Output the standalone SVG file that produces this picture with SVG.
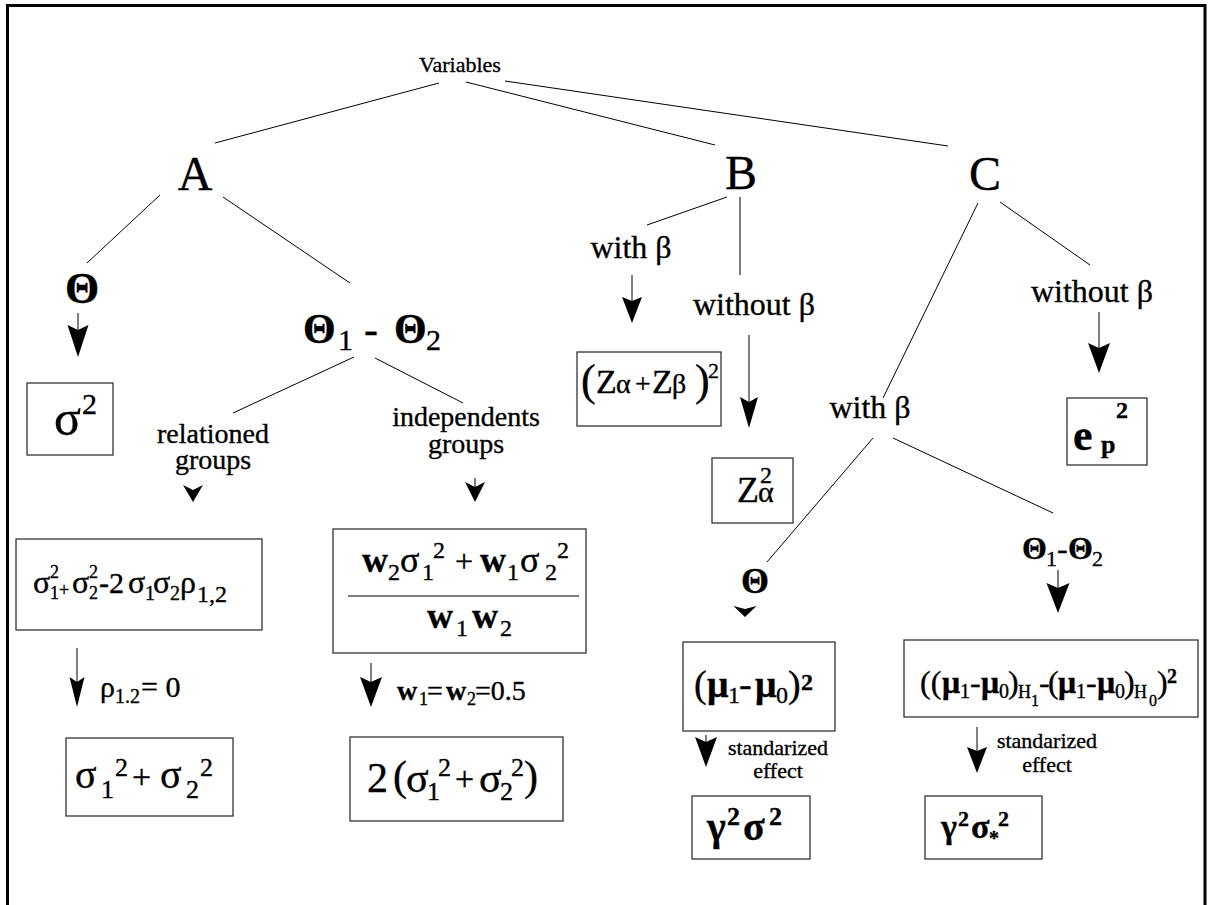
<svg xmlns="http://www.w3.org/2000/svg" width="1209" height="905" viewBox="0 0 1209 905">
<style>
.c{stroke:#000;stroke-width:1;fill:none}
.box{fill:#fff;stroke:#333;stroke-width:1.3}
.ah{fill:#000;stroke:none}
.txt{font-family:'Liberation Serif','Times New Roman',serif;fill:#000;stroke:#000;stroke-width:0.35}
</style>
<rect x="0" y="0" width="1209" height="905" fill="#fff"/>
<rect x="7.5" y="5.5" width="1197.5" height="920" fill="none" stroke="#000" stroke-width="3"/>

<g id="connectors">
  <line class="c" x1="439" y1="83" x2="215" y2="143"/>
  <line class="c" x1="466" y1="82" x2="715" y2="145"/>
  <line class="c" x1="505" y1="81" x2="948" y2="146"/>
  <line class="c" x1="160" y1="195" x2="87" y2="263"/>
  <line class="c" x1="223" y1="197" x2="350" y2="283"/>
  <line class="c" x1="354" y1="357" x2="233" y2="413"/>
  <line class="c" x1="375" y1="358" x2="463" y2="403"/>
  <line class="c" x1="727" y1="197" x2="647" y2="225"/>
  <line class="c" x1="740" y1="197" x2="740" y2="275"/>
  <line class="c" x1="978" y1="203" x2="883" y2="398"/>
  <line class="c" x1="1000" y1="202" x2="1090" y2="265"/>
  <line class="c" x1="873" y1="438" x2="767" y2="562"/>
  <line class="c" x1="893" y1="438" x2="1053" y2="513"/>
  <line class="c" x1="78" y1="313" x2="78" y2="330"/>
  <path class="ah" d="M78,357 L67.5,325 L78,330 L88.5,325 Z"/>
  <path class="ah" d="M193,502 L183,485 L193,490 L203,485 Z"/>
  <line class="c" x1="475" y1="478" x2="475" y2="487"/>
  <path class="ah" d="M475,502 L465,482 L475,487 L485,482 Z"/>
  <line class="c" x1="77" y1="648" x2="77" y2="682"/>
  <path class="ah" d="M77,707 L69.5,677 L77,682 L84.5,677 Z"/>
  <line class="c" x1="371" y1="663" x2="371" y2="682"/>
  <path class="ah" d="M371,707 L360,677 L371,682 L382,677 Z"/>
  <line class="c" x1="632" y1="275" x2="632" y2="301"/>
  <path class="ah" d="M632,323 L622,297 L632,301 L642,297 Z"/>
  <line class="c" x1="749" y1="335" x2="749" y2="402"/>
  <path class="ah" d="M749,428 L740,397 L749,402 L758,397 Z"/>
  <line class="c" x1="1099" y1="312" x2="1099" y2="348"/>
  <path class="ah" d="M1099,373 L1088,343 L1099,348 L1110,343 Z"/>
  <path class="ah" d="M745,617 L733.5,606 L745,609 L756.5,606 Z"/>
  <line class="c" x1="706" y1="735" x2="706" y2="742"/>
  <path class="ah" d="M706,767 L695,737 L706,742 L717,737 Z"/>
  <line class="c" x1="1058" y1="570" x2="1058" y2="588"/>
  <path class="ah" d="M1058,613 L1046.5,583 L1058,588 L1069.5,583 Z"/>
  <line class="c" x1="977" y1="727" x2="977" y2="751"/>
  <path class="ah" d="M977,773 L967,747 L977,751 L987,747 Z"/>
</g>

<g id="variables"><text class="txt" x="460" y="72" font-size="22" text-anchor="middle" stroke-width="0.2">Variables</text></g>
<g id="nodeA"><text class="txt" x="195" y="190" font-size="48" text-anchor="middle" stroke-width="0.6">A</text></g>
<g id="nodeB"><text class="txt" x="741" y="189" font-size="48" text-anchor="middle" stroke-width="0.6">B</text></g>
<g id="nodeC"><text class="txt" x="985" y="190" font-size="48" text-anchor="middle" stroke-width="0.6">C</text></g>

<g id="theta-A"><text class="txt" x="82" y="303" font-size="44" font-weight="bold" text-anchor="middle">Θ</text></g>
<g id="sigma2">
  <rect class="box" x="27" y="383" width="86" height="72"/>
  <text class="txt" font-size="50"><tspan x="54" y="435">σ</tspan><tspan x="82" y="414" font-size="30">2</tspan></text>
</g>

<g id="theta12-A">
  <text class="txt" font-size="42"><tspan font-weight="bold" x="303" y="343">Θ</tspan><tspan x="338" y="350" font-size="30">1</tspan><tspan x="364" y="343">-</tspan><tspan font-weight="bold" x="394" y="343">Θ</tspan><tspan x="426" y="350" font-size="30">2</tspan></text>
</g>

<g id="relationed"><text class="txt" font-size="28" text-anchor="middle"><tspan x="213" y="443">relationed</tspan><tspan x="213" y="469">groups</tspan></text></g>
<g id="independents"><text class="txt" font-size="28" text-anchor="middle"><tspan x="466" y="426">independents</tspan><tspan x="466" y="453">groups</tspan></text></g>

<g id="box-related">
  <rect class="box" x="16" y="539" width="246" height="91"/>
  <text class="txt" font-size="32">
    <tspan x="33" y="593">σ</tspan><tspan x="50" y="578" font-size="18">2</tspan><tspan x="50" y="599" font-size="18">1</tspan><tspan x="59" y="596" font-size="18">+</tspan>
    <tspan x="72" y="593">σ</tspan><tspan x="89" y="578" font-size="18">2</tspan><tspan x="89" y="599" font-size="18">2</tspan>
    <tspan x="99" y="593" font-size="30">-2</tspan>
    <tspan x="128" y="593">σ</tspan><tspan x="145" y="600" font-size="20">1</tspan><tspan x="153" y="593">σ</tspan><tspan x="170" y="600" font-size="20">2</tspan><tspan x="180" y="593">ρ</tspan><tspan x="197" y="602" font-size="24">1,2</tspan>
  </text>
</g>
<g id="rho-label"><text class="txt" font-size="30"><tspan x="100" y="697">ρ</tspan><tspan x="115" y="703" font-size="20">1.2</tspan><tspan x="141" y="697">= 0</tspan></text></g>
<g id="box-sum">
  <rect class="box" x="66" y="738" width="167" height="78"/>
  <text class="txt" font-size="40"><tspan x="75" y="788">σ</tspan><tspan x="101" y="798" font-size="26">1</tspan><tspan x="115" y="776" font-size="26">2</tspan><tspan x="132" y="788" font-size="34">+</tspan><tspan x="160" y="788">σ</tspan><tspan x="186" y="798" font-size="26">2</tspan><tspan x="200" y="776" font-size="26">2</tspan></text>
</g>

<g id="box-indep">
  <rect class="box" x="333" y="529" width="253" height="124"/>
  <text class="txt" font-size="36"><tspan x="362" y="572" font-weight="bold">w</tspan><tspan x="388" y="580" font-size="24">2</tspan><tspan x="400" y="572">σ</tspan><tspan x="422" y="580" font-size="24">1</tspan><tspan x="433" y="558" font-size="24">2</tspan><tspan x="455" y="572" font-size="32">+</tspan><tspan x="480" y="572" font-weight="bold">w</tspan><tspan x="507" y="580" font-size="24">1</tspan><tspan x="520" y="572">σ</tspan><tspan x="545" y="580" font-size="24">2</tspan><tspan x="557" y="558" font-size="24">2</tspan></text>
  <line class="c" x1="348" y1="596" x2="579" y2="596"/>
  <text class="txt" font-size="36"><tspan x="427" y="628" font-weight="bold">w</tspan><tspan x="456" y="636" font-size="24">1</tspan><tspan x="472" y="628" font-weight="bold">w</tspan><tspan x="500" y="636" font-size="24">2</tspan></text>
</g>
<g id="w-label"><text class="txt" font-size="28"><tspan x="397" y="700" font-weight="bold">w</tspan><tspan x="419" y="705" font-size="18">1</tspan><tspan x="427" y="700">=</tspan><tspan x="446" y="700" font-weight="bold">w</tspan><tspan x="467" y="705" font-size="18">2</tspan><tspan x="475" y="700">=0.5</tspan></text></g>
<g id="box-2sum">
  <rect class="box" x="350" y="737" width="213" height="84"/>
  <text class="txt" font-size="42"><tspan x="367" y="792">2</tspan><tspan x="393" y="790">(</tspan><tspan x="406" y="792">σ</tspan><tspan x="427" y="800" font-size="26">1</tspan><tspan x="438" y="776" font-size="26">2</tspan><tspan x="455" y="790" font-size="34">+</tspan><tspan x="479" y="792">σ</tspan><tspan x="500" y="800" font-size="26">2</tspan><tspan x="511" y="776" font-size="26">2</tspan><tspan x="524" y="790">)</tspan></text>
</g>

<g id="withbeta-B"><text class="txt" x="631" y="258" font-size="32" text-anchor="middle">with β</text></g>
<g id="withoutbeta-B"><text class="txt" x="754" y="315" font-size="32" text-anchor="middle">without β</text></g>
<g id="box-zab">
  <rect class="box" x="577" y="352" width="144" height="74"/>
  <text class="txt" font-size="34"><tspan x="581" y="395" font-size="44">(</tspan><tspan x="596" y="393">Z</tspan><tspan x="616" y="393" font-size="28">α</tspan><tspan x="635" y="393" font-size="28">+</tspan><tspan x="652" y="393">Z</tspan><tspan x="672" y="393" font-size="28">β</tspan><tspan x="695" y="395" font-size="44">)</tspan><tspan x="708" y="378" font-size="22">2</tspan></text>
</g>
<g id="box-za">
  <rect class="box" x="712" y="458" width="81" height="65"/>
  <text class="txt" font-size="36"><tspan x="737" y="502">Z</tspan><tspan x="758" y="502" font-size="30">α</tspan><tspan x="760" y="483" font-size="24">2</tspan></text>
</g>

<g id="withoutbeta-C"><text class="txt" x="1092" y="302" font-size="32" text-anchor="middle">without β</text></g>
<g id="box-ep">
  <rect class="box" x="1067" y="398" width="80" height="67"/>
  <text class="txt" font-size="44" font-weight="bold"><tspan x="1073" y="450">e</tspan><tspan x="1101" y="453" font-size="26">p</tspan><tspan x="1116" y="418" font-size="24">2</tspan></text>
</g>
<g id="withbeta-C"><text class="txt" x="870" y="418" font-size="32" text-anchor="middle">with β</text></g>

<g id="theta-C"><text class="txt" x="755" y="593" font-size="36" font-weight="bold" text-anchor="middle">Θ</text></g>
<g id="box-mu">
  <rect class="box" x="683" y="642" width="152" height="89"/>
  <text class="txt" font-size="38"><tspan x="694" y="697">(</tspan><tspan x="707" y="697" font-weight="bold">μ</tspan><tspan x="728" y="703" font-size="24">1</tspan><tspan x="739" y="697">-</tspan><tspan x="755" y="697" font-weight="bold">μ</tspan><tspan x="776" y="703" font-size="24">0</tspan><tspan x="788" y="697">)</tspan><tspan x="801" y="690" font-size="24" font-weight="bold">2</tspan></text>
</g>
<g id="std-1"><text class="txt" font-size="22" text-anchor="middle" stroke-width="0.2"><tspan x="778" y="755">standarized</tspan><tspan x="778" y="778">effect</tspan></text></g>
<g id="box-g1">
  <rect class="box" x="692" y="796" width="118" height="63"/>
  <text class="txt" font-size="40" font-weight="bold"><tspan x="707" y="840">γ</tspan><tspan x="727" y="825" font-size="26">2</tspan><tspan x="743" y="840">σ</tspan><tspan x="769" y="825" font-size="26">2</tspan></text>
</g>

<g id="theta12-C">
  <text class="txt" font-size="32"><tspan font-weight="bold" x="1022" y="559">Θ</tspan><tspan x="1046" y="566" font-size="22">1</tspan><tspan x="1057" y="559">-</tspan><tspan font-weight="bold" x="1068" y="559">Θ</tspan><tspan x="1092" y="566" font-size="22">2</tspan></text>
</g>
<g id="box-h">
  <rect class="box" x="904" y="640" width="294" height="77"/>
  <text class="txt" font-size="32"><tspan x="920" y="693">((</tspan><tspan x="942" y="693" font-weight="bold">μ</tspan><tspan x="960" y="698" font-size="20">1</tspan><tspan x="970" y="693">-</tspan><tspan x="981" y="693" font-weight="bold">μ</tspan><tspan x="999" y="698" font-size="20">0</tspan><tspan x="1008" y="693">)</tspan><tspan x="1018" y="698" font-size="18">H</tspan><tspan x="1031" y="706" font-size="16">1</tspan><tspan x="1039" y="693">-</tspan><tspan x="1048" y="693">(</tspan><tspan x="1058" y="693" font-weight="bold">μ</tspan><tspan x="1076" y="698" font-size="20">1</tspan><tspan x="1086" y="693">-</tspan><tspan x="1097" y="693" font-weight="bold">μ</tspan><tspan x="1115" y="698" font-size="20">0</tspan><tspan x="1124" y="693">)</tspan><tspan x="1134" y="698" font-size="18">H</tspan><tspan x="1149" y="706" font-size="16">0</tspan><tspan x="1157" y="693">)</tspan><tspan x="1167" y="683" font-size="20" font-weight="bold">2</tspan></text>
</g>
<g id="std-2"><text class="txt" font-size="22" text-anchor="middle" stroke-width="0.2"><tspan x="1047" y="748">standarized</tspan><tspan x="1047" y="772">effect</tspan></text></g>
<g id="box-g2">
  <rect class="box" x="925" y="796" width="117" height="63"/>
  <text class="txt" font-size="34" font-weight="bold"><tspan x="941" y="838">γ</tspan><tspan x="958" y="826" font-size="22">2</tspan><tspan x="971" y="838">σ</tspan><tspan x="989" y="845" font-size="20">*</tspan><tspan x="998" y="826" font-size="22">2</tspan></text>
</g>
</svg>
